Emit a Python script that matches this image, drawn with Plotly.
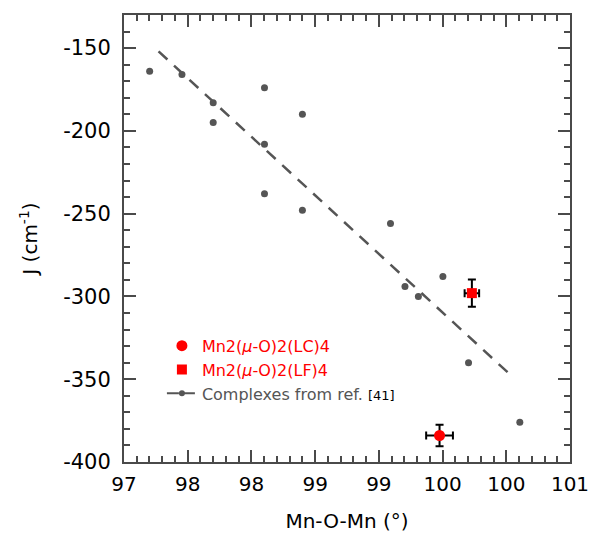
import plotly.graph_objects as go

# Reference complexes (gray points)
ref_x = [97.23, 97.52, 97.80, 97.80, 98.26, 98.26, 98.26, 98.60, 98.60,
         99.39, 99.52, 99.64, 99.86, 100.09, 100.55]
ref_y = [-164, -166, -183, -195, -174, -208, -238, -190, -248,
         -256, -294, -300, -288, -340, -376]

# Linear trend (dashed)
fit_x = [97.31, 100.46]
fit_y = [-152, -347]

# This work
lc_x = [99.83]; lc_y = [-384]; lc_ex = [0.12]; lc_ey = [6.5]
lf_x = [100.12]; lf_y = [-298]; lf_ex = [0.065]; lf_ey = [8.2]

x_tickvals = [round(97 + 4 * i / 7, 6) for i in range(8)]
x_ticktext = ["97", "98", "98", "99", "99", "100", "100", "101"]
y_tickvals = [-400, -350, -300, -250, -200, -150]
y_ticktext = ["-400", "-350", "-300", "-250", "-200", "-150"]

GRAY = "#555555"
AX = "#4a4a4a"
FONT = "DejaVu Sans"

fig = go.Figure()

fig.add_trace(go.Scatter(x=fit_x, y=fit_y, mode="lines",
                         line=dict(color=GRAY, width=2.5, dash="12px,9px"),
                         showlegend=False, hoverinfo="skip"))
fig.add_trace(go.Scatter(x=ref_x, y=ref_y, mode="markers",
                         marker=dict(color=GRAY, size=7), showlegend=False))

fig.add_trace(go.Scatter(
    x=lc_x, y=lc_y, mode="markers",
    name="<span style='color:#ff0000'>Mn2(<i>μ</i>-O)2(LC)4</span>",
    marker=dict(color="#ff0000", size=11, symbol="circle"),
    error_x=dict(type="data", array=lc_ex, color="black", thickness=2, width=4),
    error_y=dict(type="data", array=lc_ey, color="black", thickness=2, width=4)))
fig.add_trace(go.Scatter(
    x=lf_x, y=lf_y, mode="markers",
    name="<span style='color:#ff0000'>Mn2(<i>μ</i>-O)2(LF)4</span>",
    marker=dict(color="#ff0000", size=10, symbol="square"),
    error_x=dict(type="data", array=lf_ex, color="black", thickness=2, width=4),
    error_y=dict(type="data", array=lf_ey, color="black", thickness=2, width=4)))

fig.add_trace(go.Scatter(
    x=[None], y=[None], mode="lines+markers",
    name="<span style='color:#555555'>Complexes from ref. </span><span style='color:black;font-size:13px'>[41]</span>",
    line=dict(color=GRAY, width=2, dash="12px,4px"),
    marker=dict(color=GRAY, size=6)))

fig.update_layout(
    width=590, height=537,
    margin=dict(l=124, r=20, t=15, b=75),
    paper_bgcolor="white", plot_bgcolor="white",
    font=dict(family=FONT, size=20, color="black"),
    legend=dict(x=0.085, y=0.298, xanchor="left", yanchor="top",
                bgcolor="rgba(0,0,0,0)", font=dict(size=16, family=FONT),
                tracegroupgap=0, itemwidth=30),
    xaxis=dict(range=[97, 101], tickmode="array", tickvals=x_tickvals,
               ticktext=x_ticktext, ticks="inside", ticklen=12, tickwidth=1.5,
               tickcolor=AX, showline=True, linecolor=AX, linewidth=2,
               mirror="allticks", showgrid=False, zeroline=False,
               ticklabeloverflow="allow", automargin=False, ticklabelstandoff=3,
               minor=dict(tickmode="linear", tick0=97, dtick=4 / 35,
                          ticks="inside", ticklen=6, tickwidth=1.5, tickcolor=AX,
                          showgrid=False),
               title=dict(text="Mn-O-Mn (°)", font=dict(size=20), standoff=19),
               tickfont=dict(size=20)),
    yaxis=dict(range=[-400, -130], tickmode="array", tickvals=y_tickvals,
               ticktext=y_ticktext, ticks="inside", ticklen=12, tickwidth=1.5,
               tickcolor=AX, showline=True, linecolor=AX, linewidth=2,
               mirror="allticks", showgrid=False, zeroline=False,
               automargin=False, ticklabelstandoff=7,
               minor=dict(tickmode="linear", tick0=-400, dtick=10,
                          ticks="inside", ticklen=6, tickwidth=1.5, tickcolor=AX,
                          showgrid=False),
               title=dict(text="J (cm<sup>-1</sup>)", font=dict(size=20), standoff=20),
               tickfont=dict(size=21)),
)

fig.write_html("out.html", config={"displayModeBar": False},
               post_script="document.body.style.margin='0';")
